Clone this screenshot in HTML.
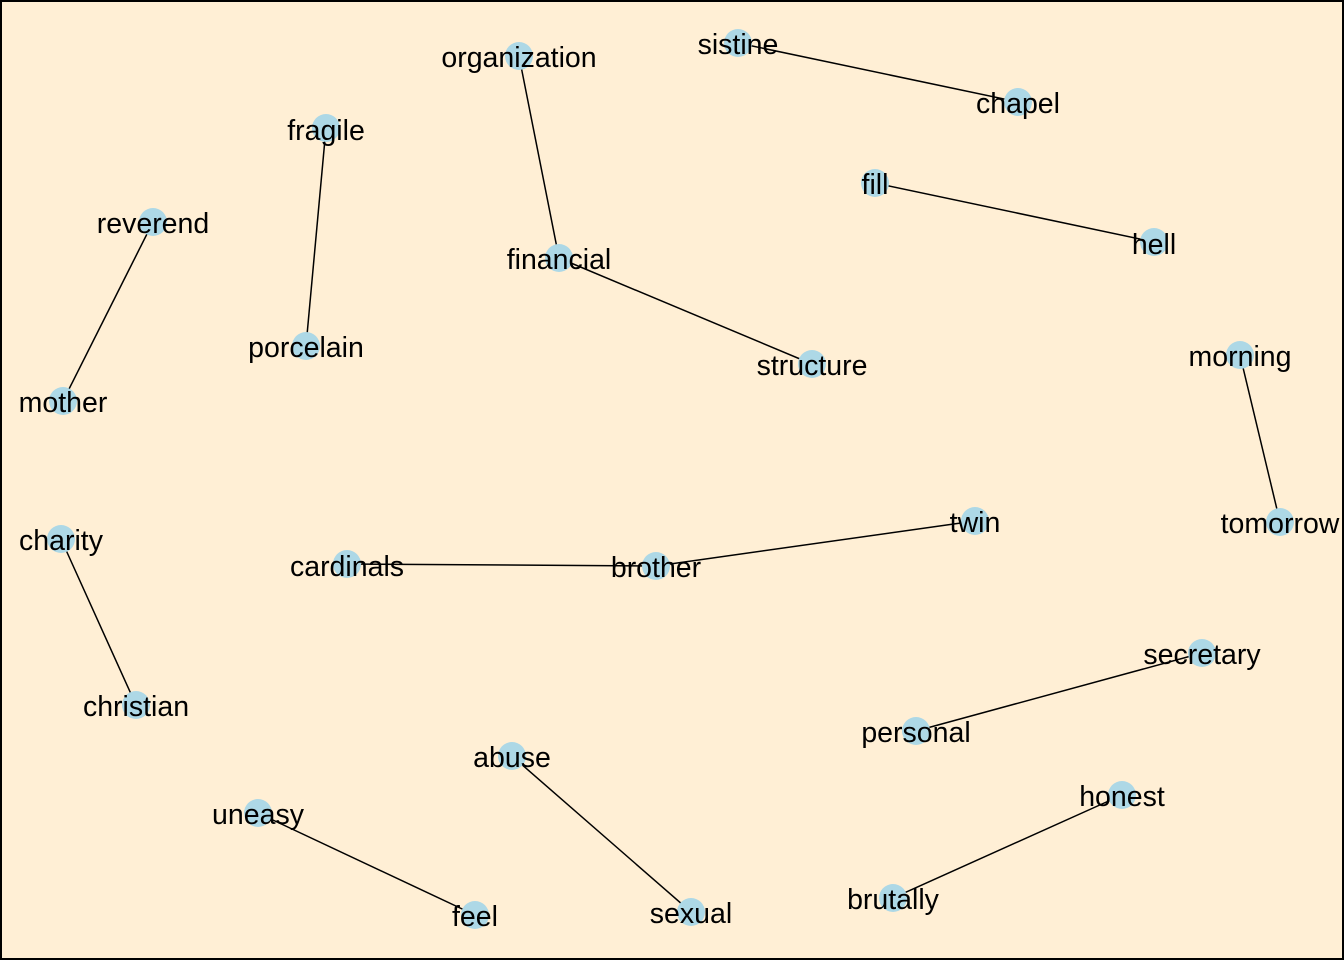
<!DOCTYPE html>
<html><head><meta charset="utf-8"><style>
html,body{margin:0;padding:0;background:#fff}
svg{display:block}
text{font-family:"Liberation Sans",Arial,sans-serif;font-size:28.5px;fill:#000;text-anchor:middle}
</style></head><body>
<svg width="1344" height="960" viewBox="0 0 1344 960" xmlns="http://www.w3.org/2000/svg">
<rect x="1" y="1" width="1342" height="958" fill="#FFEFD5" stroke="#000" stroke-width="2"/>
<g stroke="#000" stroke-width="1.5">
<line x1="519" y1="56" x2="559" y2="258"/>
<line x1="559" y1="258" x2="812" y2="364"/>
<line x1="738" y1="43" x2="1018" y2="102"/>
<line x1="326" y1="128" x2="306" y2="346"/>
<line x1="875" y1="183" x2="1154" y2="242"/>
<line x1="153" y1="222" x2="63" y2="401"/>
<line x1="1240" y1="355" x2="1280" y2="522"/>
<line x1="61" y1="539" x2="136" y2="705"/>
<line x1="347" y1="564" x2="656" y2="566"/>
<line x1="656" y1="566" x2="975" y2="521"/>
<line x1="1202" y1="653" x2="916" y2="731"/>
<line x1="512" y1="756" x2="691" y2="912"/>
<line x1="1122" y1="795" x2="893" y2="898"/>
<line x1="258" y1="813" x2="475" y2="915"/>
</g>
<g fill="#ADD8E6">
<circle cx="519" cy="56" r="14"/><circle cx="738" cy="43" r="14"/><circle cx="1018" cy="102" r="14"/>
<circle cx="326" cy="128" r="14"/><circle cx="875" cy="183" r="14"/><circle cx="1154" cy="242" r="14"/>
<circle cx="153" cy="222" r="14"/><circle cx="559" cy="258" r="14"/><circle cx="306" cy="346" r="14"/>
<circle cx="812" cy="364" r="14"/><circle cx="1240" cy="355" r="14"/><circle cx="63" cy="401" r="14"/>
<circle cx="1280" cy="522" r="14"/><circle cx="61" cy="539" r="14"/><circle cx="975" cy="521" r="14"/>
<circle cx="347" cy="564" r="14"/><circle cx="656" cy="566" r="14"/><circle cx="1202" cy="653" r="14"/>
<circle cx="136" cy="705" r="14"/><circle cx="916" cy="731" r="14"/><circle cx="512" cy="756" r="14"/>
<circle cx="1122" cy="795" r="14"/><circle cx="258" cy="813" r="14"/><circle cx="475" cy="915" r="14"/>
<circle cx="691" cy="912" r="14"/><circle cx="893" cy="898" r="14"/>
</g>
<g>
<text x="519" y="67">organization</text><text x="738" y="54">sistine</text><text x="1018" y="113">chapel</text>
<text x="326" y="140">fragile</text><text x="875" y="194">fill</text><text x="1154" y="254">hell</text>
<text x="153" y="233">reverend</text><text x="559" y="269">financial</text><text x="306" y="357">porcelain</text>
<text x="812" y="375">structure</text><text x="1240" y="366">morning</text><text x="63" y="412">mother</text>
<text x="1280" y="533">tomorrow</text><text x="61" y="550">charity</text><text x="975" y="532">twin</text>
<text x="347" y="576">cardinals</text><text x="656" y="577">brother</text><text x="1202" y="664">secretary</text>
<text x="136" y="716">christian</text><text x="916" y="742">personal</text><text x="512" y="767">abuse</text>
<text x="1122" y="806">honest</text><text x="258" y="824">uneasy</text><text x="475" y="926">feel</text>
<text x="691" y="923">sexual</text><text x="893" y="909">brutally</text>
</g>
</svg>
</body></html>
